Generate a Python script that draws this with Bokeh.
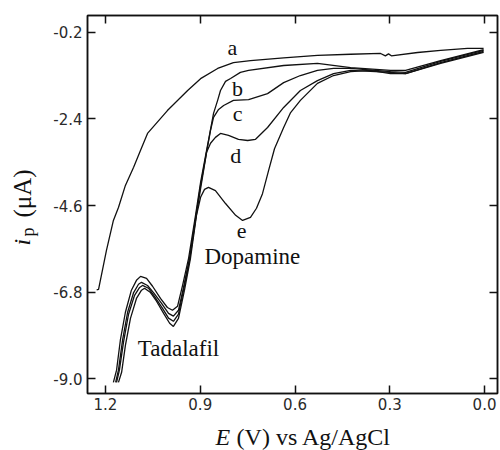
import math
from bokeh.plotting import figure
from bokeh.models import Range1d, LinearAxis, Label, FixedTicker
from bokeh.core.properties import value
from bokeh.embed import file_html
from bokeh.resources import INLINE

# Potential (V vs Ag/AgCl) and peak current (uA) for each voltammogram
a_E = [1.228, 1.222, 1.197, 1.175, 1.159, 1.137, 1.111, 1.089, 1.067, 1.004,
       0.940, 0.899, 0.845, 0.795, 0.741, 0.636, 0.529, 0.424, 0.329, 0.314,
       0.304, 0.295, 0.212, 0.139, 0.054, 0.003]
a_I = [-6.74, -6.73, -5.74, -4.98, -4.65, -4.09, -3.63, -3.20, -2.77, -2.19,
       -1.68, -1.38, -1.12, -0.97, -0.92, -0.85, -0.79, -0.76, -0.74, -0.80,
       -0.75, -0.80, -0.715, -0.66, -0.61, -0.61]

b_E = [1.175, 1.165, 1.153, 1.137, 1.118, 1.102, 1.089, 1.070, 1.051, 1.026,
       1.004, 0.988, 0.972, 0.956, 0.937, 0.915, 0.899, 0.883, 0.871, 0.858,
       0.845, 0.836, 0.820, 0.804, 0.773, 0.747, 0.636, 0.529, 0.424, 0.298,
       0.250, 0.139, 0.003]
b_I = [-9.09, -8.78, -8.02, -7.31, -6.75, -6.50, -6.40, -6.45, -6.65, -6.96,
       -7.19, -7.26, -7.16, -6.63, -5.94, -4.85, -4.01, -3.33, -2.82, -2.26,
       -1.93, -1.68, -1.45, -1.375, -1.22, -1.17, -1.045, -0.99, -1.10, -1.17,
       -1.17, -0.92, -0.64]

c_E = [1.168, 1.159, 1.146, 1.130, 1.111, 1.0955, 1.086, 1.067, 1.048, 1.023,
       1.0005, 0.985, 0.969, 0.953, 0.934, 0.915, 0.899, 0.883, 0.8675, 0.858,
       0.842, 0.826, 0.795, 0.747, 0.687, 0.636, 0.583, 0.529, 0.478, 0.424,
       0.298, 0.250, 0.139, 0.003]
c_I = [-9.09, -8.78, -8.02, -7.31, -6.81, -6.60, -6.55, -6.63, -6.81, -7.08,
       -7.34, -7.41, -7.26, -6.68, -5.94, -4.93, -4.09, -3.38, -2.69, -2.36,
       -2.16, -2.06, -1.93, -1.91, -1.76, -1.48, -1.30, -1.17, -1.12, -1.12,
       -1.20, -1.22, -0.94, -0.66]

d_E = [1.165, 1.156, 1.143, 1.127, 1.108, 1.092, 1.083, 1.064, 1.045, 1.0195,
       1.0005, 0.985, 0.969, 0.953, 0.934, 0.915, 0.899, 0.880, 0.8675, 0.852,
       0.836, 0.8105, 0.779, 0.750, 0.725, 0.687, 0.636, 0.583, 0.529, 0.478,
       0.424, 0.298, 0.250, 0.139, 0.003]
d_I = [-9.09, -8.78, -8.07, -7.36, -6.88, -6.68, -6.63, -6.70, -6.91, -7.21,
       -7.46, -7.54, -7.36, -6.75, -5.99, -4.98, -4.17, -3.25, -3.02, -2.87,
       -2.77, -2.82, -2.92, -2.95, -2.92, -2.62, -2.11, -1.68, -1.43, -1.25,
       -1.17, -1.22, -1.25, -0.97, -0.69]

e_E = [1.159, 1.149, 1.137, 1.121, 1.102, 1.086, 1.0765, 1.0575, 1.0385, 1.016,
       0.997, 0.985, 0.969, 0.950, 0.931, 0.912, 0.899, 0.8865, 0.874, 0.852,
       0.820, 0.788, 0.766, 0.741, 0.722, 0.703, 0.684, 0.665, 0.636, 0.614,
       0.583, 0.529, 0.478, 0.424, 0.361, 0.298, 0.250, 0.139, 0.003]
e_I = [-9.09, -8.835, -8.15, -7.465, -6.96, -6.75, -6.70, -6.81, -7.03, -7.34,
       -7.59, -7.67, -7.465, -6.75, -5.94, -4.85, -4.39, -4.19, -4.14, -4.22,
       -4.55, -4.85, -4.98, -4.90, -4.67, -4.30, -3.72, -3.16, -2.62, -2.24,
       -1.93, -1.50, -1.30, -1.20, -1.17, -1.25, -1.25, -0.99, -0.715]

x_ticks = [1.2, 0.9, 0.6, 0.3, 0.0]
x_tick_labels = ["1.2", "0.9", "0.6", "0.3", "0.0"]
y_ticks = [-9.0, -6.8, -4.6, -2.4, -0.2]
y_tick_labels = ["-9.0", "-6.8", "-4.6", "-2.4", "-0.2"]

SERIF = "Liberation Serif"
TICK_FONT = "DejaVu Sans"
INK = "#111111"

p = figure(width=500, height=450,
           x_range=Range1d(1.257, -0.041), y_range=Range1d(-9.373, 0.224),
           output_backend="svg", toolbar_location=None,
           min_border_left=87, min_border_right=3,
           min_border_top=15, min_border_bottom=57)
p.xgrid.visible = False
p.ygrid.visible = False
p.outline_line_color = INK
p.outline_line_width = 1.5
p.background_fill_color = "white"
p.border_fill_color = "white"


def style_axis(ax, ticks, labels, show_labels):
    ax.ticker = FixedTicker(ticks=ticks)
    ax.major_label_overrides = {t: (l if show_labels else "") for t, l in zip(ticks, labels)}
    ax.major_tick_in = 8
    ax.major_tick_out = 0
    ax.minor_tick_in = 0
    ax.minor_tick_out = 0
    ax.axis_line_color = INK
    ax.axis_line_width = 1.5
    ax.major_tick_line_color = INK
    ax.major_tick_line_width = 1.5
    ax.major_label_text_font = TICK_FONT
    ax.major_label_text_font_size = "15px" if show_labels else "0px"
    ax.major_label_text_color = "#2a2a2a"
    ax.major_label_standoff = 5 if show_labels else 0


style_axis(p.xaxis[0], x_ticks, x_tick_labels, True)
style_axis(p.yaxis[0], y_ticks, y_tick_labels, True)
p.xaxis[0].major_label_standoff = 4

# mirrored tick marks on the top and right edges
top = LinearAxis()
right = LinearAxis()
style_axis(top, x_ticks, x_tick_labels, False)
style_axis(right, y_ticks, y_tick_labels, False)
p.add_layout(top, "above")
p.add_layout(right, "right")

# voltammograms
for E, I in [(a_E, a_I), (b_E, b_I), (c_E, c_I), (d_E, d_I), (e_E, e_I)]:
    p.line(E, I, line_color=INK, line_width=1.3)

# curve letters and analyte names
for txt, x, y, size in [("a", 0.798, -0.60, "22px"), ("b", 0.782, -1.62, "22px"),
                        ("c", 0.782, -2.26, "22px"), ("d", 0.788, -3.32, "22px"),
                        ("e", 0.769, -5.25, "22px"),
                        ("Dopamine", 0.735, -5.90, "23px"),
                        ("Tadalafil", 0.969, -8.23, "23px")]:
    p.add_layout(Label(x=x, y=y, text=txt, text_font=SERIF, text_font_size=size,
                       text_color=INK, text_align="center",
                       text_baseline="middle"))


# axis titles: pieces drawn on the overlay level so they sit outside the frame
def title_piece(text, x, y, size="24px", style="normal", angle=0.0):
    p.text(x=[x], y=[y], text=[text], angle=angle, text_font=value(SERIF),
           text_font_style=style, text_font_size=size, text_color=INK,
           text_align="left", text_baseline="middle", level="overlay")


title_piece("E", 0.852, -10.49, style="italic")
title_piece("(V) vs Ag/AgCl", 0.785, -10.49)

title_piece("i", 1.4628, -5.6155, style="italic", angle=math.pi / 2)
title_piece("p", 1.4438, -5.387, size="18px", angle=math.pi / 2)
title_piece("(μA)", 1.4628, -4.904, size="25px", angle=math.pi / 2)

open("out.html", "w").write(file_html(p, INLINE))
